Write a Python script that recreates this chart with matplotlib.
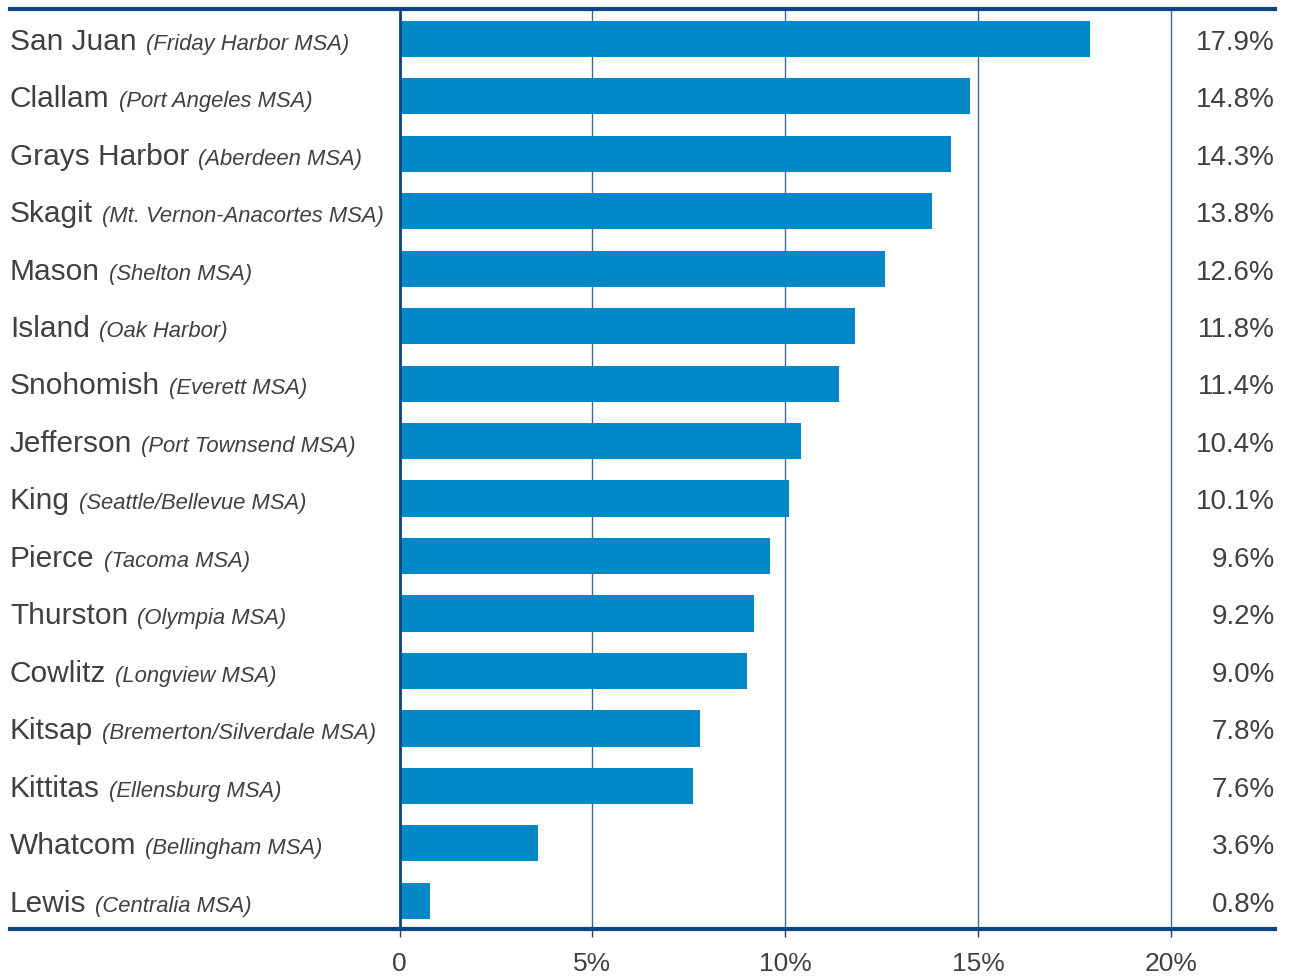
import matplotlib.pyplot as plt
from matplotlib import transforms

counties = ['San Juan', 'Clallam', 'Grays Harbor', 'Skagit', 'Mason', 'Island',
            'Snohomish', 'Jefferson', 'King', 'Pierce', 'Thurston', 'Cowlitz',
            'Kitsap', 'Kittitas', 'Whatcom', 'Lewis']
areas = ['(Friday Harbor MSA)', '(Port Angeles MSA)', '(Aberdeen MSA)',
         '(Mt. Vernon-Anacortes MSA)', '(Shelton MSA)', '(Oak Harbor)',
         '(Everett MSA)', '(Port Townsend MSA)', '(Seattle/Bellevue MSA)',
         '(Tacoma MSA)', '(Olympia MSA)', '(Longview MSA)',
         '(Bremerton/Silverdale MSA)', '(Ellensburg MSA)', '(Bellingham MSA)',
         '(Centralia MSA)']
values = [17.9, 14.8, 14.3, 13.8, 12.6, 11.8, 11.4, 10.4, 10.1, 9.6, 9.2, 9.0,
          7.8, 7.6, 3.6, 0.8]
ticks = [0, 5, 10, 15, 20]
tick_labels = ['0', '5%', '10%', '15%', '20%']

bar_color = '#0088C8'
navy = '#0D4584'
grid_color = '#3A6AA0'
text_color = '#404040'

plt.rcParams['font.family'] = ['Liberation Sans', 'DejaVu Sans']

fig = plt.figure(figsize=(12.93, 9.78), dpi=100)
ax = fig.add_axes([10/1293, 1 - 930/978, 1265/1293, 920/978])

pos = list(range(len(values)))
ax.barh(pos, values, height=0.63, color=bar_color, zorder=3)
ax.set_xlim(-10.1, 22.7)
ax.set_ylim(15.49, -0.52)

for t in ticks[1:]:
    ax.axvline(t, color=grid_color, lw=1, zorder=1)
ax.axvline(0, color=navy, lw=2, zorder=4)

for s in ['left', 'right']:
    ax.spines[s].set_visible(False)
for s in ['top', 'bottom']:
    ax.spines[s].set_color(navy)
    ax.spines[s].set_linewidth(3)

ax.set_yticks([])
ax.set_xticks(ticks)
ax.set_xticklabels(tick_labels, fontsize=19, color=text_color)
ax.tick_params(axis='x', length=6, width=1, color=navy, pad=10)

renderer = fig.canvas.get_renderer()
inv = ax.transData.inverted()
val_tr = transforms.blended_transform_factory(ax.transAxes, ax.transData)
for i, (c, a, v) in enumerate(zip(counties, areas, values)):
    t = ax.text(-10.1, i + 0.17, c, fontsize=21.5, color=text_color,
                ha='left', va='baseline')
    bb = t.get_window_extent(renderer)
    x1 = inv.transform((bb.x1 + 9, bb.y0))[0]
    ax.text(x1, i + 0.17, a, fontsize=15.8, style='italic', color=text_color,
            ha='left', va='baseline')
    ax.text(1.0, i + 0.17, f'{v:.1f}%', transform=val_tr, fontsize=20,
            color=text_color, ha='right', va='baseline')

fig.savefig('out.png', dpi=100)
